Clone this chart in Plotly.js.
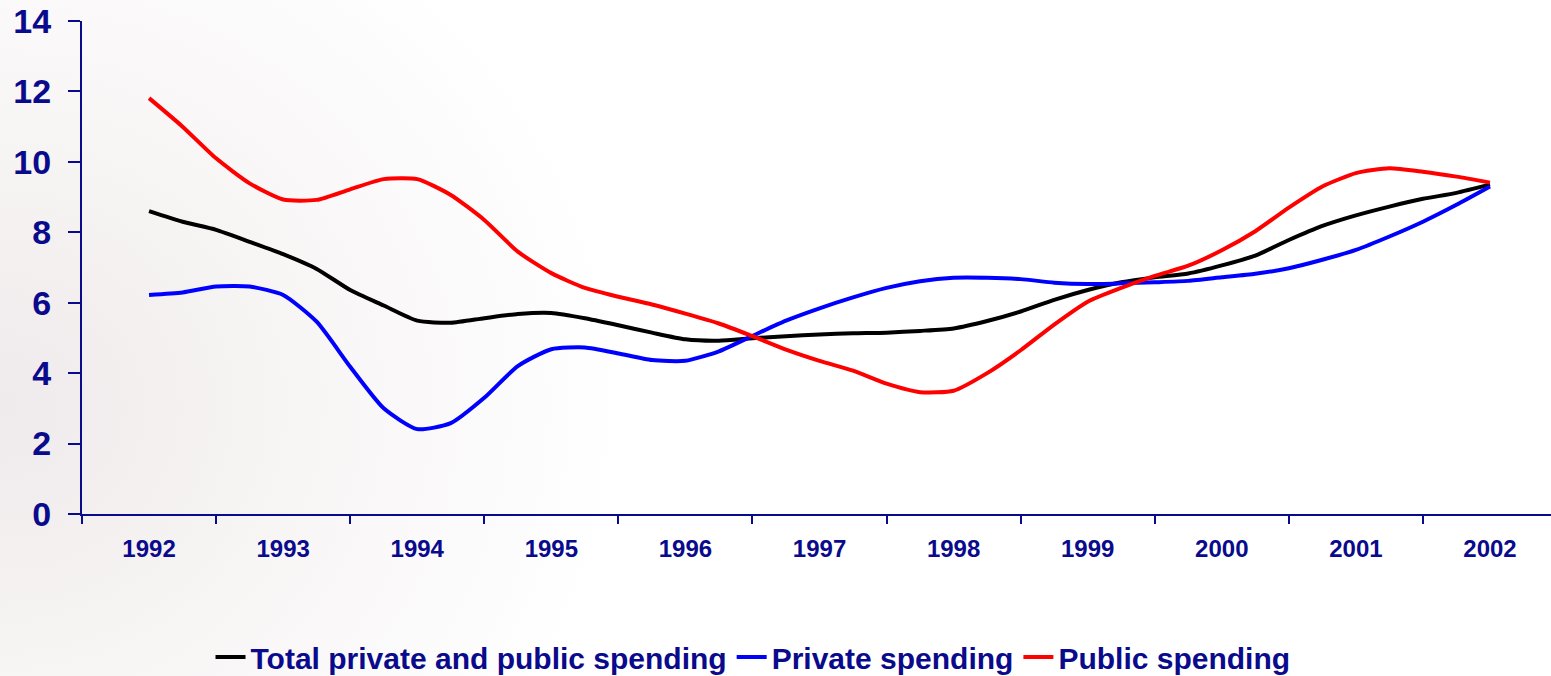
<!DOCTYPE html>
<html>
<head>
<meta charset="utf-8">
<script src="https://cdn.plot.ly/plotly-3.0.1.min.js"></script>
<style>
  html, body { margin: 0; padding: 0; }
  body {
    width: 1551px; height: 676px; overflow: hidden;
    background: radial-gradient(ellipse 40% 85% at 0% 60%, #efeaeb 0%, #f7f4f4 45%, #ffffff 100%);
  }
  #chart { width: 1551px; height: 676px; }
</style>
</head>
<body>
<div id="chart"></div>
<script>
// Quarterly periods (decimal years)
const periods = [
  1992.00, 1992.25, 1992.50, 1992.75,
  1993.00, 1993.25, 1993.50, 1993.75,
  1994.00, 1994.25, 1994.50, 1994.75,
  1995.00, 1995.25, 1995.50, 1995.75,
  1996.00, 1996.25, 1996.50, 1996.75,
  1997.00, 1997.25, 1997.50, 1997.75,
  1998.00, 1998.25, 1998.50, 1998.75,
  1999.00, 1999.25, 1999.50, 1999.75,
  2000.00, 2000.25, 2000.50, 2000.75,
  2001.00, 2001.25, 2001.50, 2001.75,
  2002.00
];

const yearLabels = [1992, 1993, 1994, 1995, 1996, 1997, 1998, 1999, 2000, 2001, 2002];

const totalSpending = [
  8.60, 8.30, 8.07, 7.73,
  7.38, 6.96, 6.36, 5.92,
  5.49, 5.43, 5.56, 5.68,
  5.71, 5.56, 5.36, 5.15,
  4.96, 4.92, 4.99, 5.05,
  5.10, 5.13, 5.15, 5.20,
  5.27, 5.48, 5.75, 6.08,
  6.36, 6.58, 6.72, 6.83,
  7.06, 7.34, 7.78, 8.18,
  8.48, 8.73, 8.95, 9.12,
  9.36
];

const privateSpending = [
  6.22, 6.29, 6.46, 6.46,
  6.22, 5.46, 4.18, 3.00,
  2.41, 2.58, 3.30, 4.20,
  4.68, 4.73, 4.56, 4.37,
  4.35, 4.62, 5.06, 5.49,
  5.84, 6.15, 6.42, 6.61,
  6.71, 6.71, 6.67, 6.57,
  6.53, 6.55, 6.58, 6.62,
  6.72, 6.82, 6.98, 7.22,
  7.50, 7.88, 8.30, 8.78,
  9.30
];

const publicSpending = [
  11.81, 11.00, 10.10, 9.39,
  8.93, 8.92, 9.22, 9.51,
  9.51, 9.06, 8.35, 7.45,
  6.84, 6.42, 6.17, 5.95,
  5.69, 5.41, 5.05, 4.67,
  4.35, 4.07, 3.70, 3.46,
  3.50, 4.00, 4.65, 5.38,
  6.03, 6.42, 6.76, 7.05,
  7.49, 8.03, 8.70, 9.30,
  9.68, 9.82, 9.72, 9.58,
  9.41
];

const seriesNames = ["Total private and public spending", "Private spending", "Public spending"];
const seriesColors = ["#000000", "#0000ff", "#ff0000"];
const seriesData = [totalSpending, privateSpending, publicSpending];

const yTicks = [0, 2, 4, 6, 8, 10, 12, 14];
const yearBoundaries = [1991.5, 1992.5, 1993.5, 1994.5, 1995.5, 1996.5, 1997.5, 1998.5, 1999.5, 2000.5, 2001.5, 2002.5];

const navy = "#0a0a8c";
const font = "Liberation Sans, Arial, sans-serif";

const traces = seriesData.map((vals, i) => ({
  type: "scatter",
  mode: "lines",
  x: periods,
  y: vals,
  name: seriesNames[i],
  line: { color: seriesColors[i], width: 4, shape: "spline", smoothing: 0.6 },
  hoverinfo: "x+y+name"
}));

const layout = {
  width: 1551,
  height: 676,
  margin: { l: 82, r: 0, t: 21, b: 162 },
  paper_bgcolor: "rgba(0,0,0,0)",
  plot_bgcolor: "rgba(0,0,0,0)",
  font: { family: font, color: navy },
  showlegend: true,
  legend: {
    orientation: "h",
    xref: "container", yref: "container",
    x: 0.4855, xanchor: "center",
    y: 0.028, yanchor: "middle",
    font: { family: font, size: 30, color: navy, weight: "bold" },
    bgcolor: "rgba(0,0,0,0)",
    itemwidth: 30,
    tracegroupgap: 0
  },
  xaxis: {
    range: [1991.5, 2002.455],
    tickmode: "array",
    tickvals: yearLabels,
    ticktext: yearLabels.map(String),
    ticks: "",
    ticklabelstandoff: 12,
    tickfont: { family: font, size: 24, color: navy, weight: "bold" },
    showline: true, linecolor: navy, linewidth: 2,
    showgrid: false, zeroline: false,
    minor: {
      tickmode: "array",
      tickvals: yearBoundaries,
      ticks: "outside",
      ticklen: 8,
      tickwidth: 2,
      tickcolor: navy,
      showgrid: false
    },
    fixedrange: true
  },
  yaxis: {
    range: [0, 14],
    tickmode: "array",
    tickvals: yTicks,
    ticks: "outside",
    ticklen: 12,
    tickwidth: 2,
    tickcolor: navy,
    ticklabelstandoff: 10,
    tickfont: { family: font, size: 34, color: navy, weight: "bold" },
    showline: true, linecolor: navy, linewidth: 2,
    showgrid: false, zeroline: false,
    fixedrange: true
  }
};

Plotly.newPlot("chart", traces, layout, { displayModeBar: false });
</script>
</body>
</html>
